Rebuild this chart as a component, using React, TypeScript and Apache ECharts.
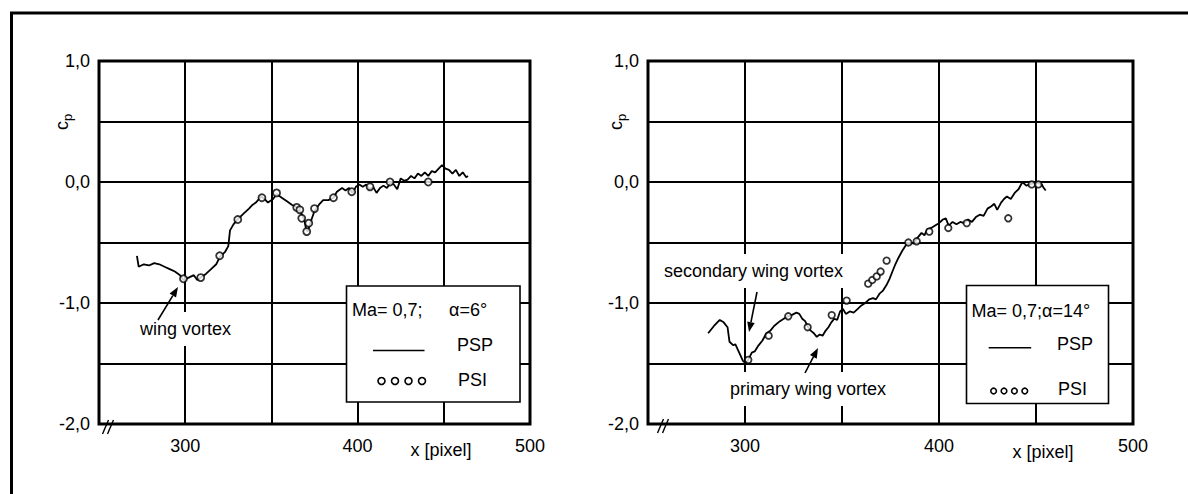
import React, { useEffect, useRef } from "react";
import * as echarts from "echarts";

// ---------- data ----------
const xTickLabels = [300, 400, 500];
const yTickValues = [1, 0, -1, -2];
const yTickLabels = ["1,0", "0,0", "-1,0", "-2,0"];

// Left panel: Ma = 0.7, alpha = 6°
const leftPsp: [number, number][] = [
  [272, -0.61], [273, -0.7], [276, -0.68], [279, -0.69], [282, -0.67], [285, -0.68],
  [288, -0.7], [291, -0.72], [294, -0.74], [297, -0.77], [299, -0.81], [302, -0.79],
  [305, -0.77], [307, -0.81], [309, -0.79], [312, -0.76], [315, -0.72], [318, -0.68],
  [320, -0.62], [323, -0.58], [325, -0.53], [326, -0.4], [328, -0.35], [331, -0.3],
  [334, -0.26], [337, -0.22], [339, -0.19], [341, -0.17], [344, -0.12], [346, -0.14],
  [348, -0.17], [351, -0.14], [353, -0.1], [356, -0.13], [359, -0.16], [362, -0.19],
  [365, -0.21], [367, -0.25], [369, -0.31], [370, -0.38], [371, -0.41], [373, -0.32],
  [375, -0.24], [378, -0.18], [380, -0.15], [383, -0.15], [386, -0.13], [388, -0.08],
  [391, -0.05], [393, -0.07], [395, -0.05], [397, -0.09], [399, -0.04], [401, -0.02],
  [403, -0.04], [405, -0.02], [407, -0.06], [409, -0.04], [411, -0.09], [413, -0.05],
  [415, -0.03], [417, -0.05], [419, -0.01], [421, -0.02], [423, -0.06], [425, 0.03],
  [427, 0.01], [429, 0.02], [431, 0.05], [433, 0.03], [435, 0.07], [437, 0.05],
  [439, 0.08], [441, 0.05], [443, 0.09], [445, 0.08], [447, 0.11], [449, 0.14],
  [451, 0.11], [453, 0.1], [455, 0.07], [457, 0.1], [459, 0.05], [461, 0.08],
  [463, 0.04], [464, 0.05],
];
const leftPsi: [number, number][] = [
  [299, -0.8], [309, -0.79], [320, -0.61], [330.5, -0.31], [344.5, -0.13], [353, -0.09],
  [364.7, -0.21], [366.5, -0.23], [367.6, -0.3], [370.5, -0.41], [371.7, -0.34],
  [375, -0.22], [386, -0.13], [396.6, -0.08], [407.2, -0.04], [418.8, 0.0], [441, 0.0],
];

// Right panel: Ma = 0.7, alpha = 14°
const rightPsp: [number, number][] = [
  [281, -1.25], [284, -1.19], [287, -1.14], [289, -1.16], [291, -1.2], [292, -1.32],
  [294, -1.35], [295, -1.34], [297, -1.41], [299, -1.48], [300.5, -1.5], [302, -1.46],
  [303.5, -1.41], [305, -1.4], [307, -1.35], [309, -1.31], [311, -1.25], [313, -1.23],
  [315, -1.19], [318, -1.15], [320, -1.13], [322, -1.11], [324, -1.1], [326.5, -1.08],
  [328, -1.09], [329.5, -1.13], [331, -1.15], [332.5, -1.2], [334, -1.23], [335.5, -1.25],
  [337, -1.28], [338.5, -1.26], [340, -1.27], [341.5, -1.23], [343, -1.2], [344.5, -1.16],
  [346, -1.13], [347.5, -1.14], [349, -1.07], [350.5, -1.05], [352, -1.09], [354, -1.07],
  [356, -1.08], [358, -1.05], [360, -1.02], [362, -1.0], [364, -0.97], [366, -0.96],
  [367.5, -0.97], [369.5, -0.92], [371, -0.9], [373, -0.85], [374.5, -0.8], [376, -0.74],
  [377.5, -0.68], [379, -0.63], [381, -0.57], [383, -0.52], [385, -0.5], [387, -0.51],
  [389, -0.46], [391, -0.42], [392.5, -0.44], [394, -0.39], [396, -0.38], [398, -0.36],
  [400, -0.34], [402, -0.31], [403.5, -0.3], [405, -0.36], [407, -0.33], [409, -0.35],
  [411, -0.33], [413, -0.34], [415, -0.31], [417, -0.33], [419, -0.29], [421, -0.27],
  [423, -0.28], [425, -0.22], [427, -0.2], [428.5, -0.18], [430, -0.23], [432, -0.17],
  [433.5, -0.14], [435, -0.12], [437, -0.14], [439, -0.09], [441, -0.06], [443, 0.0],
  [445, -0.03], [447, -0.02], [449, -0.01], [451, -0.01], [453, -0.02], [454, -0.05],
  [455, -0.07],
];
const rightPsi: [number, number][] = [
  [301.7, -1.47], [312.2, -1.27], [322.3, -1.11], [332.3, -1.2], [344.7, -1.1],
  [352.4, -0.98], [363.5, -0.84], [365.6, -0.81], [367.9, -0.78], [369.9, -0.74],
  [373, -0.65], [384.2, -0.5], [388.5, -0.49], [395, -0.41], [404.8, -0.38],
  [414.3, -0.34], [435.7, -0.3], [447.8, -0.02], [451.2, -0.02],
];

const FONT = '"Liberation Sans", Arial, Helvetica, sans-serif';
const BLACK = "#000";

function txt(x: number, y: number, text: string, extra: any = {}, size = 18) {
  return {
    type: "text",
    x,
    y,
    z: 15,
    style: {
      text,
      font: `${size}px ${FONT}`,
      fill: BLACK,
      align: "left",
      verticalAlign: "middle",
      ...extra,
    },
  };
}

function arrow(x1: number, y1: number, x2: number, y2: number) {
  const dx = x2 - x1;
  const dy = y2 - y1;
  const L = Math.hypot(dx, dy);
  const ux = dx / L;
  const uy = dy / L;
  const hl = 10;
  const hw = 3.8;
  const bx = x2 - ux * hl;
  const by = y2 - uy * hl;
  return [
    { type: "line", z: 20, shape: { x1, y1, x2: bx, y2: by }, style: { stroke: BLACK, lineWidth: 1.6 } },
    {
      type: "polygon",
      z: 20,
      shape: { points: [[x2, y2], [bx - uy * hw, by + ux * hw], [bx + uy * hw, by - ux * hw]] },
      style: { fill: BLACK },
    },
  ];
}

function breakMark(cx: number, cy: number) {
  return [-2.5, 2.5].map((o) => ({
    type: "line",
    z: 20,
    shape: { x1: cx + o - 3, y1: cy + 7, x2: cx + o + 3, y2: cy - 7 },
    style: { stroke: BLACK, lineWidth: 1.4 },
  }));
}

function cpLabel(x: number, y: number) {
  return {
    type: "group",
    x,
    y,
    rotation: Math.PI / 2,
    z: 15,
    children: [
      { type: "text", z: 15, style: { text: "c", font: `18px ${FONT}`, fill: BLACK, x: -7, y: 0, verticalAlign: "middle" } },
      { type: "text", z: 15, style: { text: "p", font: `13px ${FONT}`, fill: BLACK, x: 2, y: 5, verticalAlign: "middle" } },
    ],
  };
}

function legendCircles(x0: number, step: number, y: number, r: number) {
  return [0, 1, 2, 3].map((i) => ({
    type: "circle",
    z: 16,
    shape: { cx: x0 + i * step, cy: y, r },
    style: { fill: "#fff", stroke: BLACK, lineWidth: 1.6 },
  }));
}

function xAxisCfg(gridIndex: number) {
  return {
    type: "value",
    gridIndex,
    min: 250,
    max: 500,
    interval: 50,
    axisLine: { show: false },
    axisTick: { show: false },
    splitLine: { show: true, lineStyle: { color: BLACK, width: 2 } },
    axisLabel: {
      show: true,
      margin: 13,
      color: BLACK,
      fontFamily: FONT,
      fontSize: 18,
      showMinLabel: true,
      showMaxLabel: true,
      formatter: (v: number) => (xTickLabels.includes(v) ? String(v) : ""),
    },
  };
}

function yAxisCfg(gridIndex: number) {
  return {
    type: "value",
    gridIndex,
    min: -2,
    max: 1,
    interval: 0.5,
    axisLine: { show: false },
    axisTick: { show: false },
    splitLine: { show: true, lineStyle: { color: BLACK, width: 2 } },
    axisLabel: {
      show: true,
      margin: 9,
      color: BLACK,
      fontFamily: FONT,
      fontSize: 18,
      showMinLabel: true,
      showMaxLabel: true,
      formatter: (v: number) => {
        const i = yTickValues.indexOf(v);
        return i >= 0 ? yTickLabels[i] : "";
      },
    },
  };
}

export default function App() {
  const ref = useRef<HTMLDivElement>(null);

  useEffect(() => {
    if (!ref.current) return;
    const chart = echarts.init(ref.current, undefined, { renderer: "svg" });

    const lineStyle = { color: BLACK, width: 1.8 };
    const psiStyle = { color: "#fff", borderColor: BLACK, borderWidth: 1.8 };

    const option: any = {
      animation: false,
      backgroundColor: "#fff",
      grid: [
        { left: 99, top: 61, width: 431, height: 363, show: true, borderColor: BLACK, borderWidth: 3, backgroundColor: "#fff" },
        { left: 648, top: 61, width: 485, height: 363, show: true, borderColor: BLACK, borderWidth: 3, backgroundColor: "#fff" },
      ],
      xAxis: [xAxisCfg(0), xAxisCfg(1)],
      yAxis: [yAxisCfg(0), yAxisCfg(1)],
      series: [
        { type: "line", name: "PSP", xAxisIndex: 0, yAxisIndex: 0, data: leftPsp, showSymbol: false, lineStyle, z: 3 },
        { type: "scatter", name: "PSI", xAxisIndex: 0, yAxisIndex: 0, data: leftPsi, symbol: "circle", symbolSize: 7, itemStyle: psiStyle, z: 4 },
        { type: "line", name: "PSP", xAxisIndex: 1, yAxisIndex: 1, data: rightPsp, showSymbol: false, lineStyle, z: 3 },
        { type: "scatter", name: "PSI", xAxisIndex: 1, yAxisIndex: 1, data: rightPsi, symbol: "circle", symbolSize: 6.5, itemStyle: psiStyle, z: 4 },
      ],
      graphic: [
        // outer frame (top and left)
        { type: "line", z: 30, shape: { x1: 10, y1: 13, x2: 1188, y2: 13 }, style: { stroke: BLACK, lineWidth: 3 } },
        { type: "line", z: 30, shape: { x1: 11.5, y1: 12, x2: 11.5, y2: 494 }, style: { stroke: BLACK, lineWidth: 3 } },

        // y-axis names
        cpLabel(62, 123),
        cpLabel(616, 123),

        // x-axis names
        txt(441, 450, "x [pixel]", { align: "center" }),
        txt(1043, 452, "x [pixel]", { align: "center" }),

        // axis break marks
        ...breakMark(108, 427),
        ...breakMark(663, 426),

        // left annotation
        txt(137, 329, "wing vortex", { backgroundColor: "#fff", padding: [8, 3] }),
        ...arrow(158, 320, 178, 287),

        // right annotations
        txt(661, 271, "secondary wing vortex", { backgroundColor: "#fff", padding: [8, 3] }),
        ...arrow(757, 292, 749, 332),
        txt(727, 389, "primary wing vortex", { backgroundColor: "#fff", padding: [8, 3] }),
        ...arrow(805, 373, 818, 348),

        // left legend
        { type: "rect", z: 14, shape: { x: 346.5, y: 286, width: 173.5, height: 116 }, style: { fill: "#fff", stroke: BLACK, lineWidth: 1.6 } },
        txt(352, 310, "Ma= 0,7;"),
        txt(449, 310, "α=6°"),
        { type: "line", z: 16, shape: { x1: 373, y1: 350.5, x2: 424.5, y2: 350.5 }, style: { stroke: BLACK, lineWidth: 1.6 } },
        txt(457, 345, "PSP"),
        ...legendCircles(381.5, 13.5, 381, 3.5),
        txt(458, 380, "PSI"),

        // right legend
        { type: "rect", z: 14, shape: { x: 966.5, y: 285.5, width: 142, height: 118 }, style: { fill: "#fff", stroke: BLACK, lineWidth: 1.6 } },
        txt(971.5, 311, "Ma= 0,7;α=14°"),
        { type: "line", z: 16, shape: { x1: 988.7, y1: 347.7, x2: 1031.2, y2: 347.7 }, style: { stroke: BLACK, lineWidth: 1.6 } },
        txt(1057, 344, "PSP"),
        ...legendCircles(993.6, 10.4, 391, 2.8),
        txt(1058, 389, "PSI"),
      ],
    };

    chart.setOption(option);
    return () => chart.dispose();
  }, []);

  return (
    <div
      ref={ref}
      style={{ position: "fixed", left: 0, top: 0, width: 1188, height: 494, background: "#fff" }}
    />
  );
}
